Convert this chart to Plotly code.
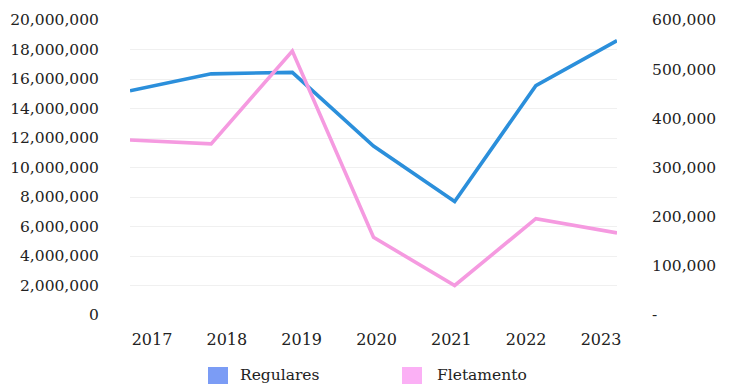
import plotly.graph_objects as go

years = ["2017", "2018", "2019", "2020", "2021", "2022", "2023"]
regulares = [15200000, 16350000, 16450000, 11450000, 7700000, 15550000, 18600000]
fletamento = [356000, 348000, 537000, 158000, 60000, 196000, 167000]
series_names = ["Regulares", "Fletamento"]

left_ticks = [0, 2000000, 4000000, 6000000, 8000000, 10000000, 12000000, 14000000, 16000000, 18000000, 20000000]
left_text = ["0", "2,000,000", "4,000,000", "6,000,000", "8,000,000", "10,000,000",
             "12,000,000", "14,000,000", "16,000,000", "18,000,000", "20,000,000"]
right_ticks = [0, 100000, 200000, 300000, 400000, 500000, 600000]
right_text = ["-", "100,000", "200,000", "300,000", "400,000", "500,000", "600,000"]

FONT = "DejaVu Serif"
W, H = 729, 376
L, R, T, B = 122, 120, 12, 69
PW, PH = W - L - R, H - T - B


def px(x):
    return (x - L) / PW


def py(y):
    return (H - B - y) / PH


fig = go.Figure()
fig.add_trace(go.Scatter(x=years, y=regulares, mode="lines", name=series_names[0],
                         line=dict(color="#2b8fdb", width=3.6), yaxis="y"))
fig.add_trace(go.Scatter(x=years, y=fletamento, mode="lines", name=series_names[1],
                         line=dict(color="#f59ae0", width=3.6), yaxis="y2"))
# empty trace so that the label axis is drawn
fig.add_trace(go.Scatter(x=[None], y=[None], mode="lines", xaxis="x2", yaxis="y",
                         hoverinfo="skip"))

# manual legend with square swatches
legend_items = [(200, 230, "#7b9cf5"), (394, 427, "#fbb0f5")]
for (sx, tx, col), name in zip(legend_items, series_names):
    fig.add_shape(type="rect", xref="paper", yref="paper",
                  x0=px(sx), x1=px(sx + 20), y0=py(376), y1=py(359),
                  fillcolor=col, line=dict(width=0), layer="above")
    fig.add_annotation(xref="paper", yref="paper", x=px(tx), y=py(367),
                       xanchor="left", yanchor="middle", text=name, showarrow=False,
                       font=dict(family=FONT, size=15.5, color="#222222"))

fig.update_layout(
    width=W, height=H, showlegend=False,
    margin=dict(l=L, r=R, t=T, b=B, autoexpand=False),
    paper_bgcolor="white", plot_bgcolor="white",
    font=dict(family=FONT, size=15, color="#222222"),
    xaxis=dict(type="category", range=[0, 6], showgrid=False, showline=False, zeroline=False,
               automargin=False, showticklabels=False, ticks=""),
    # label axis: year labels laid out as in the reference
    xaxis2=dict(overlaying="x", anchor="y", side="bottom", range=[-0.294, 6.214],
                tickmode="array", tickvals=list(range(len(years))), ticktext=years,
                showgrid=False, showline=False, zeroline=False, automargin=False,
                ticks="outside", ticklen=10, tickcolor="rgba(0,0,0,0)", tickfont=dict(size=16)),
    yaxis=dict(range=[0, 20000000], tickvals=left_ticks, ticktext=left_text,
               showgrid=True, gridcolor="#f0f0f0", gridwidth=1, zeroline=False, showline=False,
               automargin=False, ticks="outside", ticklen=27, tickcolor="rgba(0,0,0,0)",
               tickfont=dict(size=15.5)),
    yaxis2=dict(range=[0, 600000], tickvals=right_ticks, ticktext=right_text, overlaying="y",
                side="right", showgrid=False, zeroline=False, showline=False, automargin=False,
                ticks="outside", ticklen=31, tickcolor="rgba(0,0,0,0)", tickfont=dict(size=15.5)),
)

fig.write_html("out.html")
